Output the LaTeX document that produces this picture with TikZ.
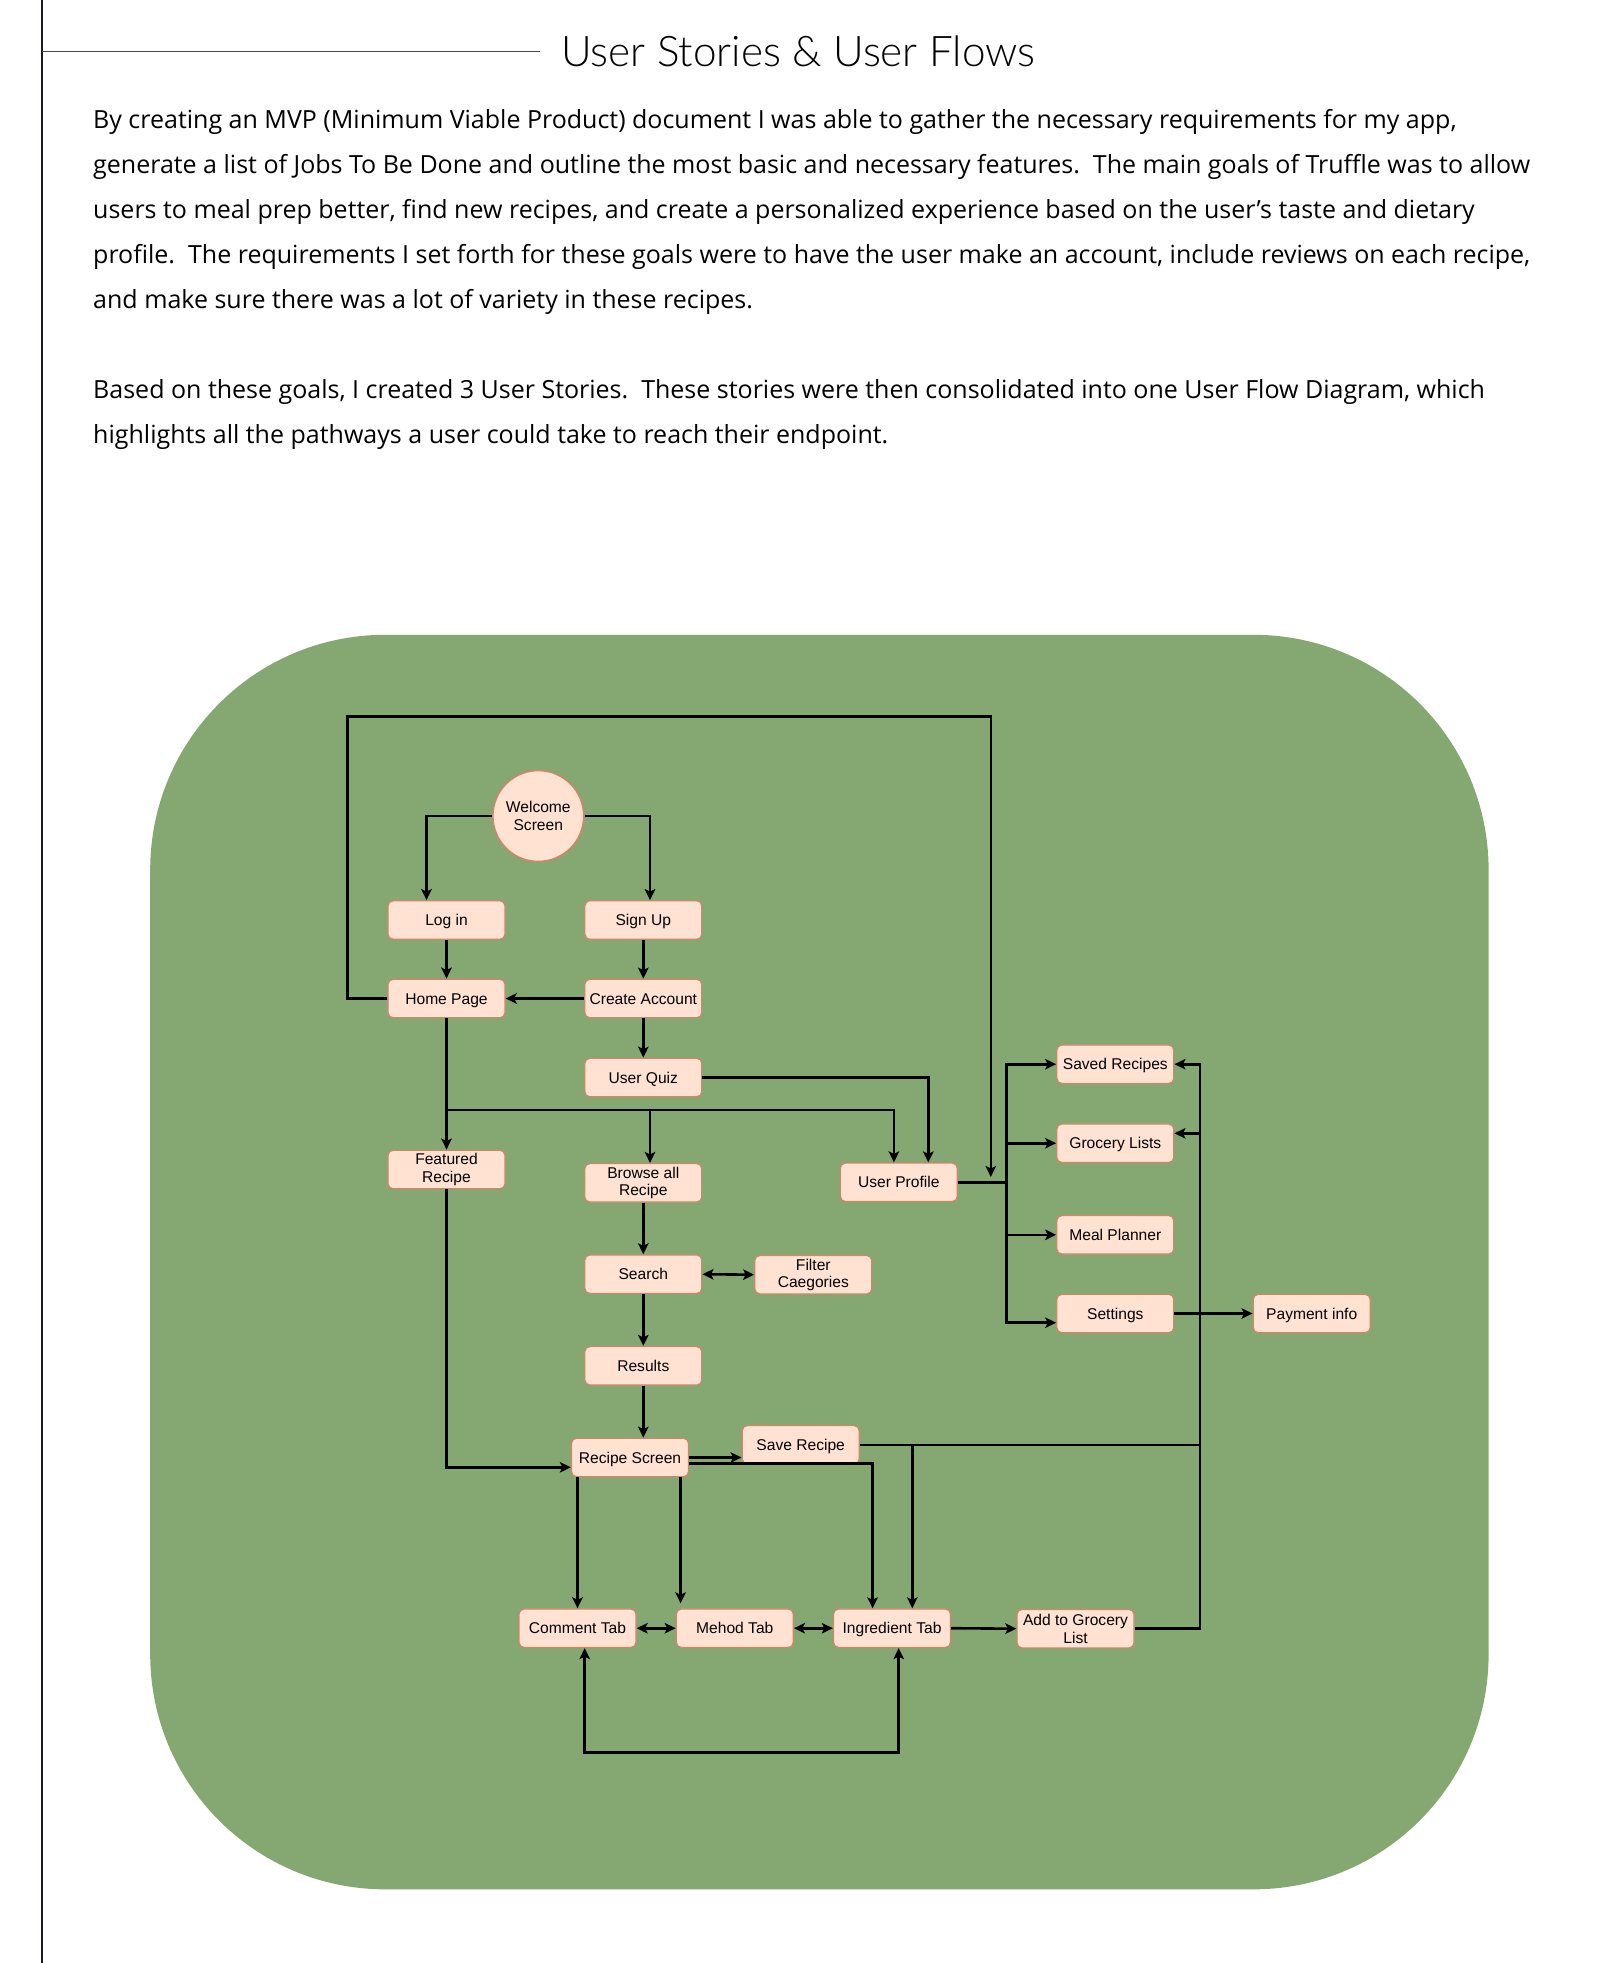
\documentclass[tikz,border=0pt]{standalone}
\usepackage{fontspec}
\usetikzlibrary{arrows.meta,calc}
\newfontfamily\bodyfont{Open Sans}
\newfontfamily\titlefont{Lato Light}
\newfontfamily\diagfont{Liberation Sans}
\definecolor{greenbg}{RGB}{133,168,115}
\definecolor{boxfill}{RGB}{255,226,210}
\definecolor{boxborder}{RGB}{205,135,105}
\definecolor{ruledark}{RGB}{25,25,35}
\definecolor{rulegray}{RGB}{70,70,70}
\tikzset{
  boxbase/.style={draw=boxborder, fill=boxfill, rounded corners=5pt, minimum width=117pt,
    minimum height=38.5pt, line width=1.3pt, align=center, inner sep=0pt,
    font=\diagfont\fontsize{15.6}{17.5}\selectfont},
  box/.style={boxbase, text height=11.2pt, text depth=0pt},
  boxml/.style={boxbase},
  startcircle/.style={circle, draw=boxborder, fill=boxfill, minimum size=91pt, line width=1.6pt,
    align=center, inner sep=0pt, font=\diagfont\fontsize{15.6}{17.5}\selectfont},
  plainline/.style={line width=2.6pt, draw=black},
  conn/.style={plainline, -{Stealth[length=11pt,width=10.5pt,inset=2.5pt]}},
  conntwo/.style={plainline, {Stealth[length=11pt,width=10.5pt,inset=2.5pt]}-{Stealth[length=11pt,width=10.5pt,inset=2.5pt]}},
  bodyline/.style={anchor=base west, inner sep=0pt, font=\bodyfont\fontsize{25}{30}\selectfont},
}
\begin{document}
\begin{tikzpicture}[x=1pt,y=-1pt]
\useasboundingbox (0,0) rectangle (1600,1963);
% page furniture
\draw[ruledark, line width=2pt] (41.7,0) -- (41.7,1963);
\draw[rulegray, line width=1.4pt] (42,51.7) -- (540,51.7);
\node[anchor=base west, inner sep=0pt, font=\titlefont\fontsize{42.2}{50}\selectfont] (title) at (561,66.7) {User Stories \& User Flows};
\node[bodyline] (p1) at (93,128.5) {By creating an MVP (Minimum Viable Product) document I was able to gather the necessary requirements for my app,};
\node[bodyline] (p2) at (93,173.5) {generate a list of Jobs To Be Done and outline the most basic and necessary features.\ \ The main goals of Truffle was to allow};
\node[bodyline] (p3) at (93,218.5) {users to meal prep better, find new recipes, and create a personalized experience based on the user’s taste and dietary};
\node[bodyline] (p4) at (93,263.5) {profile.\ \ The requirements I set forth for these goals were to have the user make an account, include reviews on each recipe,};
\node[bodyline] (p5) at (93,308.5) {and make sure there was a lot of variety in these recipes.};
\node[bodyline] (p6) at (93,398.5) {Based on these goals, I created 3 User Stories.\ \ These stories were then consolidated into one User Flow Diagram, which};
\node[bodyline] (p7) at (93,443.5) {highlights all the pathways a user could take to reach their endpoint.};
% green panel
\fill[greenbg, rounded corners=235pt] (150.2,634.8) rectangle (1488.6,1889.3);
% nodes
\node[startcircle] (welcome) at (538.3,816) {Welcome\\Screen};
\node[box] (login) at (446.5,920) {Log in};
\node[box] (signup) at (643.3,920) {Sign Up};
\node[box] (home) at (446.5,998.5) {Home Page};
\node[box] (create) at (643.3,998.5) {Create Account};
\node[box] (quiz) at (643.3,1077.5) {User Quiz};
\node[boxml] (featured) at (446.5,1169.5) {Featured\\Recipe};
\node[boxml] (browse) at (643.3,1182.8) {Browse all\\Recipe};
\node[box] (profile) at (898.8,1182.3) {User Profile};
\node[box] (saved) at (1115.3,1064.2) {Saved Recipes};
\node[box] (grocery) at (1115.3,1143.2) {Grocery Lists};
\node[box] (meal) at (1115.3,1234.8) {Meal Planner};
\node[box] (settings) at (1115.3,1313.5) {Settings};
\node[box] (payment) at (1311.7,1313.5) {Payment info};
\node[box] (search) at (643.3,1274.2) {Search};
\node[boxml] (filter) at (813.3,1274.7) {Filter\\Caegories};
\node[box] (results) at (643.3,1365.8) {Results};
\node[box] (recipe) at (630,1457.5) {Recipe Screen};
\node[box] (save) at (800.7,1444.8) {Save Recipe};
\node[box] (comment) at (577.5,1628.2) {Comment Tab};
\node[box] (method) at (734.8,1628.2) {Mehod Tab};
\node[box] (ingredient) at (892,1628.2) {Ingredient Tab};
\node[boxml] (addgrocery) at (1075.5,1628.7) {Add to Grocery\\List};
% helper coordinates
\coordinate (looptop) at (347.7,716.7);
\coordinate (loopend) at (990.8,1177);
\coordinate (hj) at (446.5,1110);
\coordinate (busL) at (1006.7,1182.3);
\coordinate (busRtop) at (1200,1064.2);
\coordinate (sj) at (912.3,1444.8);
\coordinate (loopbot) at (740,1752.3);
% connectors
\draw[conn] (welcome.west) -| ($(login.north)+(-20,0)$);
\draw[conn] (welcome.east) -| ($(signup.north)+(6.7,0)$);
\draw[conn] (login.south) -- (home.north);
\draw[conn] (signup.south) -- (create.north);
\draw[conn] (create.west) -- (home.east);
\draw[conn] (create.south) -- (quiz.north);
\draw[conn] (home.west) -| (looptop) -| (loopend);
\draw[conn] (home.south) -- (featured.north);
\draw[conn] (hj) -| ($(profile.north)+(-4.9,0)$);
\draw[conn] (hj) -| ($(browse.north)+(6.7,0)$);
\draw[conn] (quiz.east) -| ($(profile.north)+(29.5,0)$);
\draw[plainline] (profile.east) -- (busL);
\draw[conn] (busL) |- (saved.west);
\draw[conn] (busL) |- (grocery.west);
\draw[conn] (busL) |- (meal.west);
\draw[conn] (busL) |- ($(settings.west)+(0,9.2)$);
\draw[conn] (settings.east) -- (payment.west);
\draw[conn] (browse.south) -- (search.north);
\draw[conntwo] (search.east) -- (filter.west);
\draw[conn] (search.south) -- (results.north);
\draw[conn] (results.south) -- (results.south |- recipe.north);
\draw[conn] (featured.south) |- ($(recipe.west)+(0,9.8)$);
\draw[conn] (recipe.east) -- (recipe.east -| save.west);
\draw[conn] ($(recipe.east)+(0,5.8)$) -| ($(ingredient.north)+(-19.4,0)$);
\draw[plainline] (save.east) -- (save.east -| busRtop);
\draw[conn] (sj) -- (sj |- ingredient.north);
\draw[conn] (comment.north |- recipe.south) -- (comment.north);
\draw[conn] ($(recipe.south)+(50.6,0)$) -- ($(method.north)+(-54.2,-5)$);
\draw[conntwo] (comment.east) -- (method.west);
\draw[conntwo] (method.east) -- (ingredient.west);
\draw[conn] (ingredient.east) -- (addgrocery.west);
\draw[conn] (addgrocery.east) -| (busRtop) -- (saved.east);
\draw[conn] ($(busRtop)+(0,69.1)$) -- ($(grocery.east)+(0,-9.9)$);
\draw[conntwo] ($(comment.south)+(7.2,0)$) |- (loopbot) -| ($(ingredient.south)+(6.7,0)$);
\end{tikzpicture}
\end{document}
